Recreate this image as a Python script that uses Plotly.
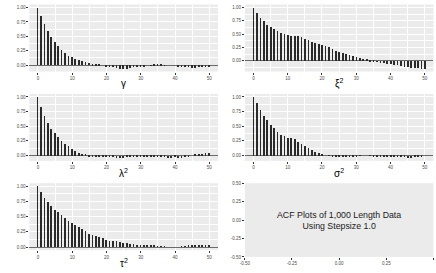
import plotly.graph_objects as go

lags = list(range(51))

acf_gamma = [1.00, 0.86, 0.73, 0.60, 0.49, 0.41, 0.34, 0.27, 0.22, 0.17, 0.14,
             0.11, 0.09, 0.08, 0.06, 0.045, 0.03, 0.02, 0.01, 0.00, -0.01,
             -0.02, -0.035, -0.045, -0.055, -0.06, -0.055, -0.045, -0.03, -0.02, -0.015,
             -0.01, 0.0, 0.005, 0.01, 0.015, 0.01, 0.005, 0.0, 0.0, 0.0,
             -0.01, -0.02, -0.025, -0.03, -0.04, -0.04, -0.035, -0.03, -0.025, -0.025]

acf_xi2 = [1.00, 0.90, 0.82, 0.75, 0.69, 0.65, 0.60, 0.56, 0.53, 0.51, 0.50,
           0.48, 0.48, 0.47, 0.45, 0.42, 0.40, 0.37, 0.35, 0.33, 0.31,
           0.29, 0.26, 0.23, 0.20, 0.18, 0.16, 0.14, 0.12, 0.10, 0.08,
           0.065, 0.05, 0.04, 0.025, 0.01, -0.005, -0.02, -0.03, -0.045, -0.06,
           -0.07, -0.08, -0.09, -0.10, -0.11, -0.12, -0.13, -0.13, -0.14, -0.145]

acf_lambda2 = [1.00, 0.83, 0.68, 0.56, 0.46, 0.39, 0.32, 0.25, 0.20, 0.16, 0.11,
               0.07, 0.045, 0.02, 0.01, -0.02, -0.015, -0.01, -0.01, -0.01, -0.01,
               -0.02, -0.03, -0.04, -0.04, -0.035, -0.03, -0.025, -0.02, -0.015, -0.02,
               -0.02, -0.025, -0.02, -0.025, -0.02, -0.025, -0.03, -0.035, -0.035, -0.03,
               -0.04, -0.035, -0.03, -0.01, 0.0, 0.01, 0.02, 0.03, 0.04, 0.05]

acf_sigma2 = [1.00, 0.90, 0.78, 0.68, 0.60, 0.53, 0.47, 0.41, 0.36, 0.33, 0.305,
              0.30, 0.28, 0.24, 0.20, 0.16, 0.13, 0.10, 0.06, 0.04, 0.015,
              0.0, -0.005, -0.01, -0.015, -0.02, -0.02, -0.02, -0.02, -0.015, -0.01,
              -0.005, 0.0, 0.0, -0.005, -0.01, -0.015, -0.02, -0.02, -0.02, -0.025,
              -0.025, -0.03, -0.03, -0.03, -0.035, -0.04, -0.03, -0.02, -0.01, 0.0]

acf_tau2 = [1.00, 0.91, 0.81, 0.73, 0.665, 0.61, 0.57, 0.52, 0.475, 0.43, 0.395,
            0.36, 0.335, 0.30, 0.26, 0.215, 0.20, 0.18, 0.16, 0.145, 0.12,
            0.10, 0.10, 0.09, 0.075, 0.07, 0.06, 0.055, 0.04, 0.03, 0.025,
            0.02, 0.02, 0.015, 0.015, 0.01, 0.005, 0.005, 0.0, 0.0, 0.0,
            0.0, 0.005, 0.01, 0.02, 0.03, 0.03, 0.025, 0.025, 0.025, 0.03]

titles = ["γ", "ξ<sup>2</sup>", "λ<sup>2</sup>", "σ<sup>2</sup>", "τ<sup>2</sup>"]
series = [acf_gamma, acf_xi2, acf_lambda2, acf_sigma2, acf_tau2]
x_ticks = [0, 10, 20, 30, 40, 50]
x_minor = [5, 15, 25, 35, 45]
y_ticks = [0.0, 0.25, 0.5, 0.75, 1.0]
y_minor = [-0.125, 0.125, 0.375, 0.625, 0.875]
note_ticks = [-0.5, -0.25, 0.0, 0.25, 0.5]
note_text = "ACF Plots of 1,000 Length Data<br>Using Stepsize 1.0"

W, H = 436, 273
FONT = "Liberation Sans, Arial, sans-serif"
GRIDC = "#FFFFFF"
TICKFONT = dict(size=4.5, color="#4d4d4d", family=FONT)

fig = go.Figure()

def xdom(col):
    left = 24.6 + 218 * col
    return [left / W, (left + 190.8) / W]

def ydom(row, bottom_off=70.8):
    top = 91 * row + 2.6
    bot = 91 * row + bottom_off
    return [1 - bot / H, 1 - top / H]

annotations = []
for i, (ttl, acf) in enumerate(zip(titles, series)):
    row, col = divmod(i, 2)
    n = i + 1
    xa = "x" if n == 1 else f"x{n}"
    ya = "y" if n == 1 else f"y{n}"
    fig.add_trace(go.Bar(x=lags, y=acf, width=0.22, marker_color="#2a2a2a",
                         marker_line_width=0, xaxis=xa, yaxis=ya,
                         showlegend=False, hoverinfo="skip"))
    lo = min(0.0, min(acf))
    hi = max(acf)
    pad = 0.05 * (hi - lo)
    key = "" if n == 1 else str(n)
    fig.layout["xaxis" + key] = dict(
        domain=xdom(col), anchor=ya, range=[-2.5, 52.5],
        tickmode="array", tickvals=x_ticks, ticktext=[str(v) for v in x_ticks],
        ticks="outside", ticklen=2, tickwidth=0.6, tickcolor="#333333",
        tickfont=TICKFONT,
        showgrid=True, gridcolor=GRIDC, gridwidth=0.8, zeroline=False,
        showline=False,
        minor=dict(tickmode="array", tickvals=x_minor, showgrid=True,
                   gridcolor=GRIDC, gridwidth=0.4, ticks=""),
        fixedrange=True)
    fig.layout["yaxis" + key] = dict(
        domain=ydom(row), anchor=xa, range=[lo - pad, hi + pad],
        tickmode="array", tickvals=y_ticks,
        ticktext=[f"{v:.2f}" for v in y_ticks],
        ticks="outside", ticklen=2, tickwidth=0.6, tickcolor="#333333",
        tickfont=TICKFONT,
        showgrid=True, gridcolor=GRIDC, gridwidth=0.8,
        zeroline=True, zerolinecolor="#6a6a6a", zerolinewidth=1.3,
        showline=False,
        minor=dict(tickmode="array", tickvals=y_minor, showgrid=True,
                   gridcolor=GRIDC, gridwidth=0.4, ticks=""),
        fixedrange=True)
    xd = xdom(col)
    annotations.append(dict(
        text=ttl, xref="paper", yref="paper",
        x=(xd[0] + xd[1]) / 2, y=1 - (91 * row + 83.5) / H,
        xanchor="center", yanchor="middle", showarrow=False,
        font=dict(size=10, color="#000000", family=FONT)))

# empty note panel
fig.add_trace(go.Scatter(x=[0], y=[0], mode="markers", marker=dict(opacity=0),
                         xaxis="x6", yaxis="y6",
                         showlegend=False, hoverinfo="skip"))
note_lbl = [f"{v:.2f}" for v in note_ticks]
fig.layout["xaxis6"] = dict(
    domain=xdom(1), anchor="y6", range=[-0.5, 0.5],
    tickmode="array", tickvals=note_ticks, ticktext=note_lbl,
    ticks="outside", ticklen=2, tickwidth=0.6, tickcolor="#333333",
    tickfont=TICKFONT,
    showgrid=False, zeroline=False, showline=False, fixedrange=True)
fig.layout["yaxis6"] = dict(
    domain=ydom(2, 77.7), anchor="x6", range=[-0.5, 0.5],
    tickmode="array", tickvals=note_ticks, ticktext=note_lbl,
    ticks="outside", ticklen=2, tickwidth=0.6, tickcolor="#333333",
    tickfont=TICKFONT,
    showgrid=False, zeroline=False, showline=False, fixedrange=True)
annotations.append(dict(
    text=note_text, xref="x6", yref="y6", x=0, y=0,
    xanchor="center", yanchor="middle", showarrow=False, align="center",
    font=dict(size=8.8, color="#1a1a1a", family=FONT)))

fig.update_layout(
    width=W, height=H, margin=dict(l=0, r=0, t=0, b=0),
    paper_bgcolor="#FFFFFF", plot_bgcolor="#EBEBEB",
    font=dict(family=FONT), annotations=annotations, bargap=0)

fig.write_html("out.html", config={"displayModeBar": False},
               post_script="document.body.style.margin='0';document.body.style.padding='0';document.body.style.overflow='hidden';")
